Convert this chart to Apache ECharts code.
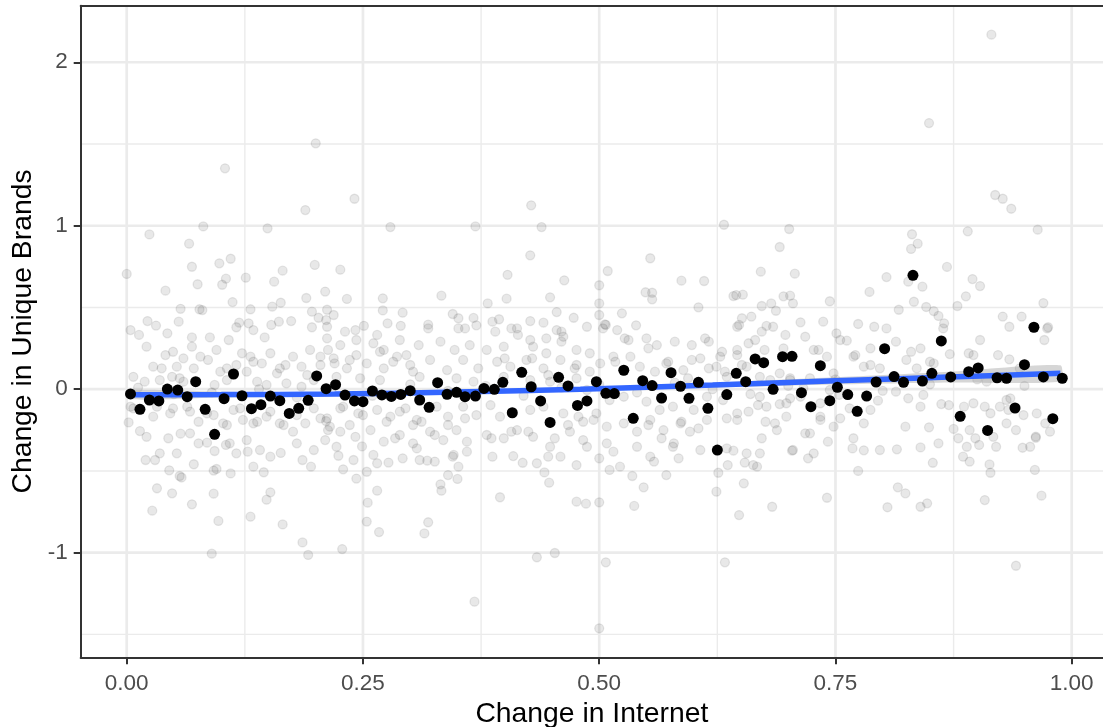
<!DOCTYPE html>
<html><head><meta charset="utf-8">
<script src="https://cdn.jsdelivr.net/npm/echarts@6/dist/echarts.min.js"></script>
<style>html,body{margin:0;padding:0;background:#fff;}#c{width:1103px;height:727px;}</style>
</head><body><div id="c"></div>
<script>
// ---- tick / grid values ----
const xTicks = [0, 0.25, 0.5, 0.75, 1];
const yTicks = [-1, 0, 1, 2];
const xMinor = [0.125, 0.375, 0.625, 0.875];
const yMinor = [-1.5, -0.5, 0.5, 1.5];

// ---- binned means (black points) ----
const binX = [0.004,0.014,0.024,0.034,0.043,0.054,0.064,0.073,0.083,0.093,0.103,0.113,0.122,0.132,0.142,0.152,0.162,0.172,0.182,0.192,0.201,0.211,0.221,0.231,0.241,0.250,0.260,0.270,0.280,0.290,0.300,0.310,0.320,0.329,0.339,0.349,0.358,0.369,0.378,0.389,0.398,0.408,0.418,0.428,0.438,0.448,0.457,0.467,0.477,0.487,0.497,0.507,0.516,0.526,0.536,0.546,0.556,0.566,0.576,0.586,0.595,0.605,0.615,0.625,0.635,0.645,0.655,0.665,0.674,0.684,0.694,0.704,0.714,0.724,0.734,0.744,0.752,0.763,0.773,0.783,0.793,0.802,0.812,0.822,0.832,0.842,0.852,0.862,0.872,0.882,0.891,0.901,0.911,0.921,0.931,0.940,0.950,0.960,0.970,0.980,0.990];
const binY = [-0.029,-0.123,-0.066,-0.072,0.001,-0.005,-0.046,0.046,-0.123,-0.276,-0.058,0.093,-0.040,-0.119,-0.095,-0.042,-0.070,-0.148,-0.117,-0.068,0.081,0.003,0.028,-0.036,-0.072,-0.076,-0.011,-0.035,-0.044,-0.032,-0.009,-0.066,-0.111,0.040,-0.031,-0.019,-0.046,-0.042,0.005,-0.001,0.042,-0.144,0.103,0.015,-0.072,-0.203,0.073,0.020,-0.099,-0.072,0.046,-0.025,-0.027,0.116,-0.178,0.052,0.022,-0.054,0.101,0.018,-0.056,0.042,-0.117,-0.372,-0.033,0.097,0.046,0.185,0.162,-0.001,0.199,0.201,-0.021,-0.107,0.144,-0.070,0.012,-0.033,-0.135,-0.042,0.044,0.248,0.077,0.042,0.697,0.050,0.097,0.295,0.075,-0.166,0.107,0.130,-0.252,0.070,0.067,-0.115,0.150,0.379,0.075,-0.180,0.067];

// ---- smooth fit and its confidence band ----
const smoothX = [0.004,0.10,0.22,0.35,0.48,0.62,0.75,0.87,0.988];
const smoothY = [-0.034,-0.033,-0.030,-0.017,0.000,0.025,0.051,0.074,0.097];
const bandHalf = [0.028,0.018,0.013,0.012,0.012,0.015,0.022,0.033,0.050];

// ---- raw observations (grey points), [x, y] ----
const grayPts = [
[0.104,1.351],[0.200,1.504],[0.241,1.165],[0.189,1.096],[0.149,0.984],[0.081,0.996],[0.024,0.947],[0.279,0.992],[0.066,0.890],[0.110,0.798],[0.098,0.770],[0.069,0.749],[0.000,0.705],[0.199,0.760],[0.226,0.731],[0.165,0.725],[0.126,0.682],[0.105,0.676],[0.101,0.639],[0.075,0.642],[0.156,0.658],[0.041,0.603],[0.210,0.597],[0.190,0.558],[0.233,0.552],[0.271,0.556],[0.112,0.533],[0.163,0.529],[0.154,0.505],[0.057,0.492],[0.077,0.489],[0.080,0.484],[0.131,0.489],[0.196,0.474],[0.212,0.486],[0.271,0.482],[0.292,0.468],[0.022,0.417],[0.031,0.389],[0.055,0.413],[0.119,0.407],[0.129,0.403],[0.161,0.413],[0.174,0.417],[0.211,0.423],[0.203,0.437],[0.251,0.388],[0.276,0.403],[0.290,0.388],
[0.428,1.125],[0.369,0.996],[0.439,0.992],[0.632,1.006],[0.427,0.819],[0.554,0.801],[0.403,0.700],[0.509,0.723],[0.463,0.666],[0.587,0.664],[0.611,0.662],[0.333,0.572],[0.402,0.554],[0.448,0.562],[0.500,0.636],[0.549,0.593],[0.556,0.590],[0.556,0.550],[0.642,0.570],[0.652,0.578],[0.382,0.525],[0.500,0.525],[0.605,0.501],[0.345,0.460],[0.351,0.434],[0.367,0.436],[0.394,0.428],[0.455,0.472],[0.473,0.437],[0.500,0.454],[0.524,0.464],[0.319,0.395],[0.370,0.391],[0.387,0.413],[0.427,0.417],[0.441,0.407],[0.506,0.397],[0.507,0.393],[0.539,0.391],[0.651,0.434],[0.648,0.393],[0.661,0.444],
[0.915,2.169],[0.849,1.628],[0.919,1.188],[0.927,1.165],[0.936,1.104],[0.701,0.980],[0.831,0.948],[0.837,0.890],[0.830,0.858],[0.890,0.966],[0.964,0.976],[0.691,0.870],[0.671,0.719],[0.707,0.707],[0.868,0.748],[0.804,0.686],[0.827,0.658],[0.842,0.627],[0.895,0.674],[0.903,0.631],[0.786,0.595],[0.695,0.568],[0.702,0.572],[0.705,0.525],[0.744,0.538],[0.682,0.525],[0.672,0.509],[0.687,0.480],[0.833,0.535],[0.817,0.486],[0.846,0.503],[0.854,0.478],[0.859,0.448],[0.865,0.403],[0.879,0.509],[0.888,0.568],[0.927,0.444],[0.947,0.444],[0.970,0.527],[0.713,0.409],[0.737,0.413],[0.677,0.387],[0.774,0.399],[0.791,0.382],[0.804,0.372],[0.934,0.382],[0.975,0.379],
[0.020,-0.433],[0.030,-0.433],[0.045,-0.496],[0.056,-0.531],[0.032,-0.606],[0.048,-0.637],[0.027,-0.743],[0.069,-0.704],[0.071,-0.459],[0.092,-0.498],[0.095,-0.488],[0.110,-0.515],[0.092,-0.639],[0.097,-0.806],[0.090,-1.006],[0.131,-0.780],[0.148,-0.676],[0.152,-0.631],[0.134,-0.474],[0.145,-0.508],[0.165,-0.827],[0.186,-0.937],[0.192,-1.014],[0.228,-0.978],[0.195,-0.474],[0.186,-0.433],[0.163,-0.390],[0.229,-0.490],[0.243,-0.547],[0.224,-0.407],[0.240,-0.433],[0.254,-0.505],[0.265,-0.621],[0.255,-0.694],[0.254,-0.810],[0.267,-0.874],[0.058,-0.540],[0.002,-0.203],[0.014,-0.256],[0.076,-0.331],[0.085,-0.327],[0.067,-0.270],[0.057,-0.272],[0.093,-0.378],[0.105,-0.341],[0.128,-0.382],[0.211,-0.195],[0.213,-0.250],[0.249,-0.350],[0.261,-0.402],[0.277,-0.449],[0.292,-0.423],[0.307,-0.362],[0.284,-0.300],
[0.332,-0.582],[0.333,-0.621],[0.319,-0.814],[0.315,-0.882],[0.340,-0.525],[0.350,-0.549],[0.345,-0.413],[0.351,-0.474],[0.360,-0.382],[0.368,-1.300],[0.395,-0.661],[0.387,-0.413],[0.409,-0.409],[0.419,-0.450],[0.434,-1.028],[0.453,-1.002],[0.442,-0.509],[0.447,-0.572],[0.446,-0.413],[0.476,-0.688],[0.486,-0.700],[0.500,-0.692],[0.500,-1.463],[0.507,-1.059],[0.500,-0.423],[0.511,-0.494],[0.522,-0.474],[0.535,-0.531],[0.537,-0.714],[0.547,-0.600],[0.558,-0.443],[0.571,-0.525],[0.584,-0.423],[0.579,-0.331],[0.624,-0.627],[0.626,-0.511],[0.633,-1.059],[0.648,-0.770],[0.653,-0.576],[0.636,-0.464],[0.654,-0.449],[0.663,-0.464],[0.642,-0.376],[0.326,-0.443],[0.318,-0.437],
[0.941,-1.080],[0.683,-0.719],[0.741,-0.664],[0.805,-0.722],[0.816,-0.600],[0.824,-0.637],[0.840,-0.719],[0.847,-0.698],[0.908,-0.678],[0.968,-0.651],[0.774,-0.500],[0.853,-0.450],[0.892,-0.443],[0.885,-0.413],[0.913,-0.460],[0.914,-0.511],[0.961,-0.494],[0.721,-0.423],[0.670,-0.392],[0.667,-0.474],[0.704,-0.376],[0.742,-0.321],[0.768,-0.362],[0.780,-0.374],[0.797,-0.372],[0.815,-0.368],[0.840,-0.356],[0.859,-0.331],[0.902,-0.341],[0.920,-0.352],[0.948,-0.358],[0.962,-0.297],[0.672,-0.300],
[0.665,0.301],[0.697,0.332],[0.718,0.321],[0.732,0.240],[0.755,0.301],[0.762,0.297],[0.771,0.209],[0.780,0.138],[0.787,0.148],[0.814,0.291],[0.830,0.229],[0.840,0.250],[0.850,0.168],[0.871,0.215],[0.896,0.209],[0.903,0.301],[0.922,0.209],[0.934,0.183],[0.971,0.301],[0.974,0.372],[0.864,0.372],[0.681,0.056],[0.702,0.067],[0.702,-0.056],[0.718,-0.270],[0.723,-0.270],[0.691,-0.091],[0.698,-0.168],[0.676,-0.199],[0.686,-0.209],[0.734,-0.188],[0.755,-0.178],[0.769,-0.300],[0.795,-0.070],[0.824,-0.229],[0.840,-0.107],[0.849,-0.233],[0.862,-0.091],[0.870,-0.097],[0.875,-0.243],[0.880,-0.300],[0.886,-0.107],[0.889,-0.352],[0.898,-0.300],[0.908,-0.107],[0.914,-0.147],[0.931,-0.066],[0.933,-0.127],[0.941,-0.250],[0.949,-0.158],[0.962,-0.290],[0.972,-0.209],[0.814,-0.015],[0.827,-0.056],[0.843,-0.035],[0.787,0.250],[0.797,0.128],[0.716,0.006],[0.744,-0.005],[0.754,-0.035],[0.668,-0.097],
[0.004,0.362],[0.013,0.332],[0.043,0.342],[0.069,0.317],[0.088,0.317],[0.108,0.301],[0.116,0.379],[0.134,0.362],[0.146,0.317],[0.153,0.393],[0.196,0.379],[0.212,0.382],[0.021,0.260],[0.041,0.209],[0.049,0.229],[0.060,0.189],[0.069,0.260],[0.078,0.199],[0.086,0.179],[0.028,0.138],[0.037,0.128],[0.053,0.138],[0.095,0.240],[0.106,0.128],[0.116,0.148],[0.122,0.220],[0.131,0.199],[0.143,0.158],[0.152,0.220],[0.159,0.097],[0.168,0.148],[0.176,0.199],[0.185,0.138],[0.194,0.240],[0.205,0.199],[0.213,0.240],[0.220,0.158],[0.212,0.311],[0.007,0.076],[0.019,0.046],[0.035,0.056],[0.048,0.076],[0.060,0.046],[0.093,0.026],[0.106,0.056],[0.138,0.046],[0.148,0.026],[0.169,0.036],[0.185,0.015],[0.198,0.056],[0.004,-0.107],[0.028,-0.168],[0.032,-0.107],[0.046,-0.148],[0.064,-0.107],[0.076,-0.199],[0.085,-0.148],[0.102,-0.209],[0.113,-0.127],[0.123,-0.188],[0.134,-0.209],[0.148,-0.168],[0.162,-0.209],[0.176,-0.260],[0.189,-0.209],[0.205,-0.178],[0.215,-0.229],[0.021,-0.291],[0.044,-0.300],[0.035,-0.392],[0.053,-0.392],[0.109,-0.331],[0.116,-0.392],[0.127,-0.311],[0.141,-0.372],[0.152,-0.413],[0.180,-0.331],[0.198,-0.372],[0.210,-0.311],[0.222,-0.352],
[0.219,0.454],[0.242,0.362],[0.231,0.352],[0.265,0.332],[0.351,0.372],[0.358,0.372],[0.413,0.372],[0.455,0.362],[0.462,0.321],[0.487,0.382],[0.226,0.270],[0.243,0.301],[0.261,0.281],[0.272,0.240],[0.289,0.301],[0.309,0.270],[0.332,0.291],[0.347,0.240],[0.363,0.270],[0.381,0.240],[0.399,0.260],[0.414,0.332],[0.430,0.260],[0.444,0.220],[0.460,0.291],[0.476,0.240],[0.236,0.179],[0.254,0.158],[0.272,0.128],[0.286,0.199],[0.300,0.148],[0.321,0.179],[0.339,0.117],[0.356,0.179],[0.372,0.128],[0.392,0.168],[0.406,0.138],[0.423,0.179],[0.441,0.128],[0.459,0.179],[0.476,0.148],[0.222,0.076],[0.247,0.067],[0.268,0.056],[0.310,0.076],[0.349,0.067],[0.367,0.046],[0.399,0.076],[0.427,0.056],[0.448,0.046],[0.476,0.067],[0.229,-0.107],[0.245,-0.148],[0.265,-0.127],[0.279,-0.168],[0.295,-0.117],[0.307,-0.188],[0.328,-0.107],[0.340,-0.168],[0.356,-0.107],[0.370,-0.158],[0.385,-0.097],[0.395,-0.168],[0.427,-0.127],[0.441,-0.107],[0.462,-0.148],[0.478,-0.168],[0.226,-0.260],[0.242,-0.291],[0.258,-0.250],[0.272,-0.321],[0.289,-0.280],[0.303,-0.331],[0.321,-0.260],[0.335,-0.311],[0.349,-0.250],[0.360,-0.321],[0.381,-0.280],[0.399,-0.300],[0.413,-0.250],[0.430,-0.291],[0.448,-0.352],[0.469,-0.260],[0.483,-0.311],[0.265,-0.453],[0.310,-0.433],[0.346,-0.402],[0.434,-0.453],[0.459,-0.413],[0.476,-0.464],
[0.645,0.576],[0.646,0.382],[0.672,0.352],[0.684,0.382],[0.519,0.362],[0.527,0.311],[0.550,0.311],[0.561,0.270],[0.580,0.291],[0.598,0.179],[0.616,0.291],[0.628,0.199],[0.646,0.240],[0.675,0.240],[0.695,0.250],[0.727,0.240],[0.741,0.199],[0.490,0.220],[0.501,0.158],[0.515,0.199],[0.533,0.199],[0.543,0.138],[0.571,0.158],[0.589,0.117],[0.607,0.189],[0.624,0.138],[0.635,0.076],[0.656,0.138],[0.670,0.076],[0.691,0.097],[0.702,0.056],[0.723,0.067],[0.748,0.097],[0.487,-0.005],[0.511,-0.066],[0.526,-0.046],[0.550,-0.076],[0.564,-0.127],[0.578,-0.107],[0.600,-0.127],[0.614,-0.046],[0.631,-0.066],[0.646,-0.148],[0.670,-0.046],[0.677,-0.107],[0.698,-0.086],[0.713,-0.046],[0.734,-0.086],[0.494,-0.188],[0.508,-0.229],[0.526,-0.209],[0.540,-0.260],[0.554,-0.188],[0.568,-0.250],[0.586,-0.209],[0.596,-0.260],[0.614,-0.188],[0.635,-0.178],[0.646,-0.188],[0.688,-0.250],[0.734,-0.168],[0.748,-0.229],[0.487,-0.352],[0.515,-0.382],[0.540,-0.352],[0.554,-0.413],[0.578,-0.352],[0.607,-0.372],[0.635,-0.362],[0.656,-0.392],[0.705,-0.372],[0.727,-0.392],
[0.751,0.342],[0.945,0.128],[0.769,0.199],[0.825,0.179],[0.836,0.128],[0.854,0.158],[0.891,0.220],[0.910,0.046],[0.765,-0.117],[0.787,-0.127],[0.896,-0.086],[0.924,-0.107],[0.931,-0.209],[0.935,-0.056],[0.963,-0.148],[0.780,-0.209],[0.892,-0.250],[0.917,-0.291],[0.956,-0.352],[0.977,-0.260],
[0.312,-0.199],[0.326,-0.280],[0.340,-0.219],[0.358,-0.178],[0.386,-0.300],[0.407,-0.260],[0.425,-0.260],[0.453,-0.300],[0.467,-0.219],[0.483,-0.199],[0.497,-0.148],[0.508,-0.331],[0.552,-0.219],[0.566,-0.300],[0.587,-0.199],[0.605,-0.239],[0.658,-0.137],[0.319,0.372],[0.390,0.352],[0.407,0.372],[0.427,0.301],[0.444,0.311],[0.460,0.352],[0.504,0.372],[0.531,0.301],[0.552,0.250],[0.598,0.270],[0.612,0.311],[0.630,0.229],[0.646,0.209],[0.658,0.281],[0.400,0.189],[0.429,0.189],[0.446,0.087],[0.474,0.128],[0.490,0.107],[0.517,0.168],[0.559,0.107],[0.573,0.168],[0.594,0.067],[0.616,0.128],[0.633,0.107],[0.651,0.148],
[0.056,0.067],[0.071,0.128],[0.099,0.107],[0.127,0.107],[0.134,0.168],[0.162,0.128],[0.191,0.087],[0.205,0.148],[0.219,0.189],[0.233,0.128],[0.243,0.209],[0.268,0.229],[0.282,0.168],[0.296,0.209],[0.303,0.107],[0.007,-0.117],[0.049,-0.117],[0.067,-0.137],[0.092,-0.158],[0.106,-0.219],[0.120,-0.117],[0.138,-0.199],[0.152,-0.137],[0.166,-0.219],[0.180,-0.158],[0.198,-0.117],[0.212,-0.178],[0.226,-0.117],[0.236,-0.219],[0.250,-0.158],[0.275,-0.199],[0.289,-0.137],[0.303,-0.219],
[0.012,0.010],[0.050,-0.030],[0.090,-0.020],[0.140,0.000],[0.180,-0.050],[0.220,0.020],[0.260,-0.040],[0.300,0.030],[0.340,-0.010],[0.380,0.020],[0.420,-0.040],[0.460,0.010],[0.500,0.030],[0.540,-0.020],[0.580,0.040],[0.620,0.000],[0.660,-0.030],[0.700,0.020],[0.750,0.060],[0.800,-0.010],[0.850,0.030],[0.900,0.060],[0.950,0.020]
];

// ---- rendering ----
const FONT = '"Liberation Sans", Arial, Helvetica, sans-serif';
const chart = echarts.init(document.getElementById('c'), null, {renderer: 'canvas'});
const X_MIN = -0.0487, X_MAX = 1.0331, Y_MIN = -1.640, Y_MAX = 2.346;

function vLineItem(width, color) {
  return function (params, api) {
    const cs = params.coordSys;
    const x = api.coord([api.value(0), 0])[0];
    return {type: 'line', shape: {x1: x, y1: cs.y, x2: x, y2: cs.y + cs.height},
            style: {stroke: color, lineWidth: width}, silent: true};
  };
}
function hLineItem(width, color) {
  return function (params, api) {
    const cs = params.coordSys;
    const y = api.coord([0, api.value(1)])[1];
    return {type: 'line', shape: {x1: cs.x, y1: y, x2: cs.x + cs.width, y2: y},
            style: {stroke: color, lineWidth: width}, silent: true};
  };
}
const borderLine = {show: true, onZero: false, lineStyle: {color: '#333333', width: 2}};

const option = {
  animation: false,
  backgroundColor: '#ffffff',
  grid: {left: 80.7, top: 5.7, right: 0, bottom: 69.7, show: true, borderWidth: 0,
         backgroundColor: '#ffffff', outerBoundsMode: 'none', containLabel: false},
  xAxis: [{
    type: 'value', min: X_MIN, max: X_MAX, position: 'bottom',
    name: 'Change in Internet', nameLocation: 'middle', nameGap: 39,
    nameTextStyle: {fontFamily: FONT, fontSize: 28.3, color: '#000000'},
    axisLine: borderLine, splitLine: {show: false},
    axisTick: {show: true, length: 7, lineStyle: {color: '#333333', width: 2}, customValues: xTicks},
    axisLabel: {customValues: xTicks, formatter: v => Number(v).toFixed(2), margin: 15,
                color: '#4d4d4d', fontFamily: FONT, fontSize: 22.5}
  }, {
    type: 'value', min: X_MIN, max: X_MAX, position: 'top',
    axisLine: borderLine, axisTick: {show: false}, axisLabel: {show: false}, splitLine: {show: false}
  }],
  yAxis: {
    type: 'value', min: Y_MIN, max: Y_MAX,
    name: 'Change in Unique Brands', nameLocation: 'middle', nameGap: 40,
    nameTextStyle: {fontFamily: FONT, fontSize: 28.3, color: '#000000'},
    axisLine: borderLine, splitLine: {show: false},
    axisTick: {show: true, length: 7, lineStyle: {color: '#333333', width: 2}, customValues: yTicks},
    axisLabel: {customValues: yTicks, formatter: v => String(Math.round(v)), margin: 13,
                color: '#4d4d4d', fontFamily: FONT, fontSize: 22.5}
  },
  series: [
    {type: 'custom', z: 0, silent: true, clip: false, encode: {x: 0, y: 1},
     data: xMinor.map(v => [v, 0]), renderItem: vLineItem(1.4, '#ebebeb')},
    {type: 'custom', z: 0, silent: true, clip: false, encode: {x: 0, y: 1},
     data: yMinor.map(v => [0, v]), renderItem: hLineItem(1.4, '#ebebeb')},
    {type: 'custom', z: 0, silent: true, clip: false, encode: {x: 0, y: 1},
     data: xTicks.map(v => [v, 0]), renderItem: vLineItem(2.7, '#ebebeb')},
    {type: 'custom', z: 0, silent: true, clip: false, encode: {x: 0, y: 1},
     data: yTicks.map(v => [0, v]), renderItem: hLineItem(2.7, '#ebebeb')},
    {type: 'scatter', z: 2, silent: true, data: grayPts, symbol: 'circle', symbolSize: 9,
     itemStyle: {color: 'rgba(0,0,0,0.09)', borderColor: 'rgba(0,0,0,0.09)', borderWidth: 1.3, opacity: 1}},
    {type: 'custom', z: 3, silent: true, encode: {x: 0, y: 1}, data: [[smoothX[0], smoothY[0]]],
     renderItem: function (params, api) {
       const pts = [];
       for (let i = 0; i < smoothX.length; i++) pts.push(api.coord([smoothX[i], smoothY[i] + bandHalf[i]]));
       for (let i = smoothX.length - 1; i >= 0; i--) pts.push(api.coord([smoothX[i], smoothY[i] - bandHalf[i]]));
       return {type: 'polygon', shape: {points: pts, smooth: 0.2}, style: {fill: 'rgba(153,153,153,0.4)'}};
     }},
    {type: 'line', z: 4, silent: true, data: smoothX.map((x, i) => [x, smoothY[i]]), smooth: 0.3,
     showSymbol: false, lineStyle: {color: '#3366FF', width: 5.5}},
    {type: 'scatter', z: 5, silent: true, data: binX.map((x, i) => [x, binY[i]]), symbol: 'circle',
     symbolSize: 11, itemStyle: {color: '#000000', opacity: 1}}
  ]
};
chart.setOption(option);
</script>
</body></html>
